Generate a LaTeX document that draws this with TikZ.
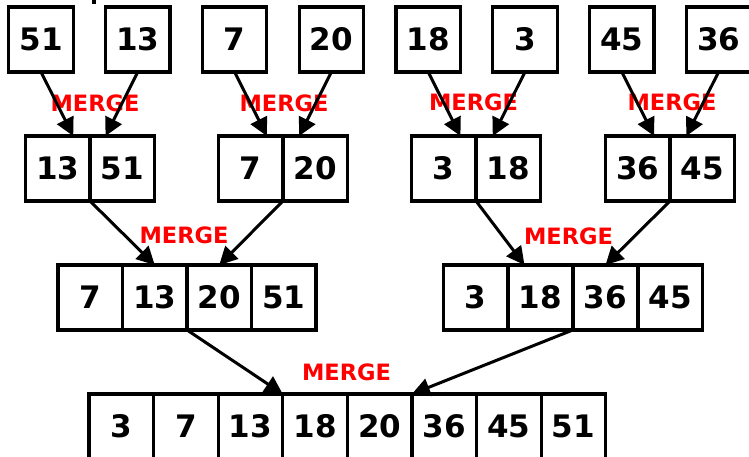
\documentclass[tikz,border=0pt]{standalone}
\usepackage{fontspec}
\setmainfont{DejaVu Sans}
\usetikzlibrary{arrows.meta,calc}
\tikzset{
  cell/.style={draw, line width=3.2pt, minimum width=64.5pt, minimum height=65pt,
    inner sep=0pt, outer sep=0pt, fill=white,
    font=\fontsize{31}{36}\selectfont\bfseries},
  mergelbl/.style={text=red, inner sep=0pt, font=\fontsize{22.5}{26}\selectfont\bfseries},
  arr/.style={line width=3pt, -{Triangle[length=18pt,width=18pt]}},
}
\begin{document}
\begin{tikzpicture}[x=1pt,y=-1pt]
\useasboundingbox (0,0) rectangle (749,457);
% small mark at top edge
\fill (92,0) rectangle (96,4);
% row 1
\foreach \v [count=\i] in {51,13,7,20,18,3,45,36}
  \node[cell] (a\i) at ({41+96.8*(\i-1)},39.5) {\v};
% row 2 (pairs around dividers 90, 283, 476, 670)
\node[cell] (b1) at (57.75,168.5) {13};
\node[cell] (b2) at (122.25,168.5) {51};
\node[cell] (b3) at (250.75,168.5) {7};
\node[cell] (b4) at (315.25,168.5) {20};
\node[cell] (b5) at (443.75,168.5) {3};
\node[cell] (b6) at (508.25,168.5) {18};
\node[cell] (b7) at (637.75,168.5) {36};
\node[cell] (b8) at (702.25,168.5) {45};
% row 3
\foreach \v [count=\i] in {7,13,20,51}
  \node[cell] (c\i) at ({90.25+64.5*(\i-1)},297.5) {\v};
\foreach \v [count=\i] in {3,18,36,45}
  \node[cell] (e\i) at ({475.5+65*(\i-1)},297.5) {\v};
% row 4
\foreach \v [count=\i] in {3,7,13,18,20,36,45,51}
  \node[cell] (d\i) at ({121.3+64.6*(\i-1)},426.5) {\v};
% labels
\node[mergelbl] (m1) at (95,103) {MERGE};
\node[mergelbl] (m2) at (284,103) {MERGE};
\node[mergelbl] (m3) at (473.5,102.5) {MERGE};
\node[mergelbl] (m4) at (672,102.5) {MERGE};
\node[mergelbl] (m5) at (184,235) {MERGE};
\node[mergelbl] (m6) at (568.5,236) {MERGE};
\node[mergelbl] (m7) at (346.5,372.5) {MERGE};
% arrows row 1 -> row 2
\draw[arr] (a1.south) -- (a1.south east |- b1.north);
\draw[arr] (a2.south) -- (a2.south west |- b2.north);
\draw[arr] (a3.south) -- (a3.south east |- b3.north);
\draw[arr] (a4.south) -- (a4.south west |- b4.north);
\draw[arr] (a5.south) -- (a5.south east |- b5.north);
\draw[arr] (a6.south) -- (a6.south west |- b6.north);
\draw[arr] (a7.south) -- (a7.south east |- b7.north);
\draw[arr] (a8.south) -- (a8.south west |- b8.north);
% arrows row 2 -> row 3
\draw[arr] (b1.south east) -- (c2.north);
\draw[arr] (b3.south east) -- (c3.north);
\draw[arr] (b5.south east) -- ($(e2.north)+(-16,0)$);
\draw[arr] (b7.south east) -- (e3.north);
% arrows row 3 -> row 4
\draw[arr] (c2.south east) -- (d3.north east);
\draw[arr] (e2.south east) -- (d5.north east);
\end{tikzpicture}
\end{document}
